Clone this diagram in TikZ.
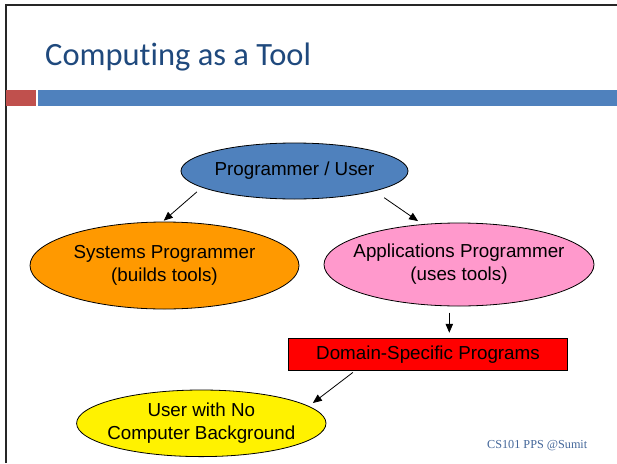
\documentclass[tikz,border=0pt]{standalone}
\usepackage{fontspec}
\setmainfont{Liberation Sans}
\newfontfamily\titlefont[Ligatures=NoCommon]{Carlito}
\newfontfamily\footfont{Liberation Serif}
\usetikzlibrary{shapes.geometric,arrows.meta}
\definecolor{titleblue}{HTML}{1F497D}
\definecolor{footblue}{HTML}{44679A}
\definecolor{barred}{HTML}{C0504D}
\definecolor{barblue}{HTML}{4F81BD}
\definecolor{nodeblue}{HTML}{4F81BD}
\definecolor{nodeorange}{HTML}{FF9900}
\definecolor{nodepink}{HTML}{FF99CC}
% zero-width line so the ellipse keeps its set size
\newcommand\ovalline[1]{\makebox[0pt]{#1}}
\tikzset{
  oval/.style={ellipse, draw=black, line width=0.8pt, inner sep=0pt, outer sep=0pt,
    align=center, font=\fontsize{18.8}{23}\selectfont},
  boxnode/.style={rectangle, draw=black, line width=0.9pt, inner sep=0pt, outer sep=0pt,
    align=center, font=\fontsize{18.8}{23}\selectfont},
  arr/.style={draw=black, line width=0.8pt, -{Triangle[length=9pt,width=7.5pt]}},
}
\begin{document}
\begin{tikzpicture}[x=1pt,y=-1pt]
  \useasboundingbox (0,0) rectangle (617,463);
  \fill[white] (0,0) rectangle (617,463);
  % slide frame
  \draw[line width=2pt, black!85] (5.5,463) -- (5.5,4.5) -- (617,4.5);
  % title and header bars
  \node[anchor=base west, inner sep=0pt, text=titleblue,
        font=\titlefont\fontsize{32.5}{38}\selectfont] (title) at (45,65) {Computing as a Tool};
  \fill[barred] (6,90) rectangle (35.5,106);
  \fill[barblue] (38,90) rectangle (617,106);
  % diagram nodes
  \node[oval, fill=nodeblue, minimum width=227pt, minimum height=56pt] (pu) at (294.5,171)
    {\ovalline{Programmer / User}};
  \node[oval, fill=nodeorange, minimum width=269pt, minimum height=87pt] (sp) at (164.5,265.5)
    {\ovalline{Systems Programmer}\\\ovalline{(builds tools)}};
  \node[oval, fill=nodepink, minimum width=270pt, minimum height=83pt] (ap) at (459,264.5)
    {\ovalline{Applications Programmer}\\\ovalline{(uses tools)}};
  \node[boxnode, fill=red, minimum width=279.4pt, minimum height=31.7pt] (dsp) at (428,354.2)
    {Domain-Specific Programs};
  \node[oval, fill=yellow, minimum width=249.4pt, minimum height=66.6pt] (yl) at (201.3,423.3)
    {\ovalline{User with No}\\\ovalline{Computer Background}};
  % connectors
  \draw[arr, shorten <=7pt, shorten >=2pt] (pu.190) -- (sp.93);
  \draw[arr, shorten <=12pt, shorten >=6pt] (pu.346) -- (ap.132);
  \draw[arr, shorten <=6.5pt, shorten >=5.6pt] ([xshift=-9.7pt]ap.south) -- ([xshift=-9.7pt]ap.south |- dsp.north);
  \draw[arr, shorten <=4pt, shorten >=5.4pt] ([xshift=-72pt]dsp.south) -- (yl.9);
  % footer
  \node[anchor=base west, inner sep=0pt, text=footblue,
        font=\footfont\fontsize{12.2}{14}\selectfont] (foot) at (487,448) {CS101 PPS @Sumit};
\end{tikzpicture}
\end{document}
